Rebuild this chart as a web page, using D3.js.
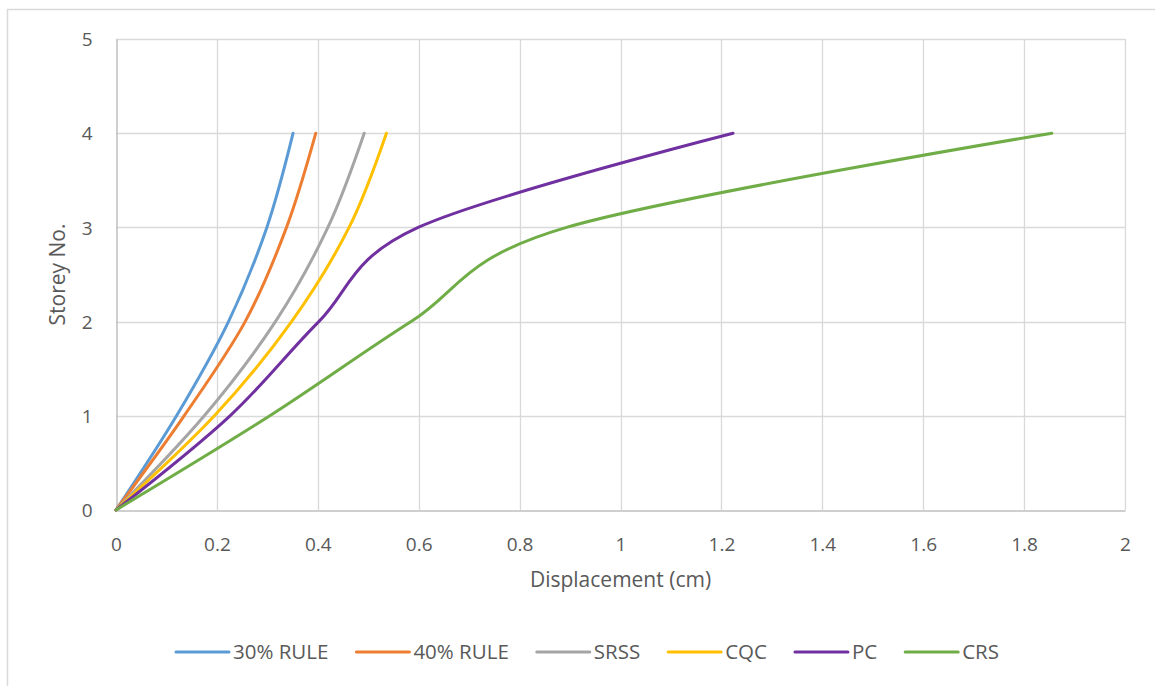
<!DOCTYPE html>
<html>
<head>
<meta charset="utf-8">
<script src="https://cdn.jsdelivr.net/npm/d3@7"></script>
<style>
  html, body { margin: 0; padding: 0; background: #fff; }
  svg { display: block; font-family: "Open Sans", "Noto Sans", sans-serif; }
</style>
</head>
<body>
<svg id="chart" width="1155" height="686"></svg>
<script>
// Storey levels and displacement (cm) for each combination method
const storeys = [0, 1, 2, 3, 4];
const rule30 = [0, 0.120, 0.223, 0.299, 0.351];
const rule40 = [0, 0.135, 0.256, 0.338, 0.396];
const srss   = [0, 0.175, 0.316, 0.420, 0.492];
const cqc    = [0, 0.195, 0.348, 0.462, 0.536];
const pc     = [0, 0.226, 0.402, 0.599, 1.223];
const crs    = [0, 0.305, 0.585, 0.893, 1.855];

const seriesNames = ["30% RULE", "40% RULE", "SRSS", "CQC", "PC", "CRS"];
const seriesValues = [rule30, rule40, srss, cqc, pc, crs];
const seriesColors = ["#5B9BD5", "#ED7D31", "#A5A5A5", "#FFC000", "#7030A0", "#70AD47"];

const xTicks = [0, 0.2, 0.4, 0.6, 0.8, 1, 1.2, 1.4, 1.6, 1.8, 2];
const yTicks = [0, 1, 2, 3, 4, 5];

const svg = d3.select("#chart");

// chart frame
svg.append("rect")
  .attr("x", 7.5).attr("y", 9.5)
  .attr("width", 1160).attr("height", 690)
  .attr("fill", "#fff").attr("stroke", "#D9D9D9").attr("stroke-width", 1.5);

const plot = { left: 116, right: 1125, top: 39, bottom: 510 };

const x = d3.scaleLinear().domain([0, 2]).range([plot.left, plot.right]);
const y = d3.scaleLinear().domain([0, 5]).range([plot.bottom, plot.top]);

// grid lines
const grid = svg.append("g");
grid.selectAll("line.v").data(xTicks.filter(d => d > 0)).join("line")
  .attr("x1", d => Math.round(x(d)) + 0.5).attr("x2", d => Math.round(x(d)) + 0.5)
  .attr("y1", plot.top).attr("y2", plot.bottom)
  .attr("stroke", "#D9D9D9").attr("stroke-width", 1.3);
grid.selectAll("line.h").data(yTicks.filter(d => d > 0)).join("line")
  .attr("y1", d => Math.round(y(d)) + 0.5).attr("y2", d => Math.round(y(d)) + 0.5)
  .attr("x1", plot.left).attr("x2", plot.right)
  .attr("stroke", "#D9D9D9").attr("stroke-width", 1.3);

// axes: domain lines plus labels, no tick marks
const xAxis = d3.axisBottom(x).tickValues(xTicks).tickSize(0).tickPadding(0)
  .tickFormat(d => d3.format("~g")(d));
const yAxis = d3.axisLeft(y).tickValues(yTicks).tickSize(0).tickPadding(0)
  .tickFormat(d3.format("d"));

const gx = svg.append("g").attr("transform", `translate(0,${plot.bottom + 0.5})`).call(xAxis);
gx.select(".domain").attr("stroke", "#BFBFBF").attr("stroke-width", 1.5);
gx.selectAll("text").attr("fill", "#595959").attr("font-size", 19)
  .attr("font-family", "Open Sans").attr("dy", null).attr("y", 40);

const gy = svg.append("g").attr("transform", `translate(${plot.left + 0.5},0)`).call(yAxis);
gy.select(".domain").attr("stroke", "#BFBFBF").attr("stroke-width", 1.5);
gy.selectAll("text").attr("fill", "#595959").attr("font-size", 19)
  .attr("font-family", "Open Sans").attr("x", -24).attr("dy", "0.35em");

// axis titles
svg.append("text")
  .attr("x", (plot.left + plot.right) / 2).attr("y", 587)
  .attr("text-anchor", "middle").attr("fill", "#595959")
  .attr("font-size", 21).text("Displacement (cm)");
svg.append("text")
  .attr("transform", `translate(65,${(plot.top + plot.bottom) / 2}) rotate(-90)`)
  .attr("text-anchor", "middle").attr("fill", "#595959")
  .attr("font-size", 21).text("Storey No.");

// smoothed series lines
const line = d3.line()
  .x(d => x(d[0])).y(d => y(d[1]))
  .curve(d3.curveCatmullRom.alpha(0));

svg.append("g").selectAll("path").data(seriesValues).join("path")
  .attr("d", vals => line(vals.map((v, i) => [v, storeys[i]])))
  .attr("fill", "none")
  .attr("stroke", (d, i) => seriesColors[i])
  .attr("stroke-width", 3)
  .attr("stroke-linecap", "round")
  .attr("stroke-linejoin", "round");

// legend
const legend = svg.append("g");
const lineLen = 53, textGap = 4, itemGap = 28, legendY = 652;
const items = legend.selectAll("g").data(seriesNames).join("g");
items.append("line")
  .attr("x1", 0).attr("x2", lineLen).attr("y1", 0).attr("y2", 0)
  .attr("stroke", (d, i) => seriesColors[i]).attr("stroke-width", 3)
  .attr("stroke-linecap", "round");
items.append("text")
  .attr("x", lineLen + textGap).attr("dy", "0.35em")
  .attr("fill", "#595959").attr("font-size", 20.5).text(d => d);
const widths = [];
items.each(function () {
  widths.push(lineLen + textGap + this.querySelector("text").getComputedTextLength());
});
const total = d3.sum(widths) + itemGap * (widths.length - 1);
let cursor = 587.5 - total / 2;
items.attr("transform", (d, i) => {
  const tx = cursor;
  cursor += widths[i] + itemGap;
  return `translate(${tx},${legendY})`;
});
</script>
</body>
</html>
